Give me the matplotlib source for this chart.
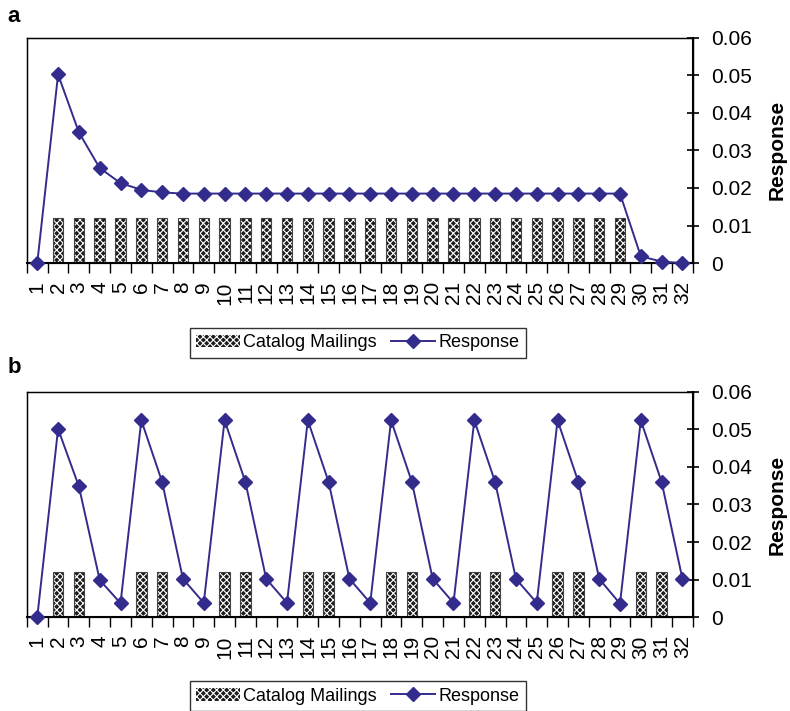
import matplotlib
matplotlib.use("Agg")
import matplotlib.pyplot as plt
import numpy as np

plt.rcParams['font.family'] = ['Liberation Sans', 'DejaVu Sans']
plt.rcParams['hatch.color'] = 'white'
plt.rcParams['hatch.linewidth'] = 0.8

periods = list(range(1, 33))

# catalog mailings (1 = mailing sent in that period)
mail_a = [0, 1, 1, 1, 1, 1, 1, 1, 1, 1, 1, 1, 1, 1, 1, 1,
          1, 1, 1, 1, 1, 1, 1, 1, 1, 1, 1, 1, 1, 0, 0, 0]
mail_b = [0, 1, 1, 0, 0, 1, 1, 0, 0, 1, 1, 0, 0, 1, 1, 0,
          0, 1, 1, 0, 0, 1, 1, 0, 0, 1, 1, 0, 0, 1, 1, 0]

resp_a = [0.0, 0.0502, 0.0348, 0.0253, 0.0213, 0.0195, 0.0188, 0.0185,
          0.0185, 0.0185, 0.0185, 0.0185, 0.0185, 0.0185, 0.0185, 0.0185,
          0.0185, 0.0185, 0.0185, 0.0185, 0.0185, 0.0185, 0.0185, 0.0185,
          0.0185, 0.0185, 0.0185, 0.0185, 0.0185, 0.0018, 0.0004, 0.0]
resp_b = [0.0, 0.0501, 0.0348, 0.0099, 0.0037, 0.0524, 0.0360, 0.0102,
          0.0038, 0.0524, 0.0360, 0.0102, 0.0038, 0.0524, 0.0360, 0.0102,
          0.0038, 0.0524, 0.0360, 0.0102, 0.0038, 0.0524, 0.0360, 0.0102,
          0.0038, 0.0524, 0.0360, 0.0102, 0.0036, 0.0524, 0.0360, 0.0102]

resp_ticks = [0, 0.01, 0.02, 0.03, 0.04, 0.05, 0.06]
resp_labels = ['0', '0.01', '0.02', '0.03', '0.04', '0.05', '0.06']

LINE = '#342c8c'


def draw_panel(fig, rect, mailings, response, letter, letter_y, legend_y):
    ax = fig.add_axes(rect)
    # bars on the hidden left scale, mailing=1 reaches 1/5 of the height
    bars = ax.bar(periods, mailings, width=0.5, color='#1c1c1c',
                  hatch='xxxxx', linewidth=0, label='Catalog Mailings')
    ax.bar(periods, mailings, width=0.5, fill=False,
           edgecolor='#444444', linewidth=0.8)
    ax.set_ylim(0, 5)
    ax.set_yticks([])
    ax.set_xlim(0.5, 32.5)

    ax2 = ax.twinx()
    line, = ax2.plot(periods, response, color=LINE, lw=1.4, marker='D',
                     markersize=7.5, label='Response', clip_on=False, zorder=5)
    ax2.set_ylim(0, 0.06)
    ax2.set_yticks(resp_ticks)
    ax2.set_yticklabels(resp_labels, fontsize=15)
    ax2.tick_params(axis='y', direction='inout', length=8, width=1.2, pad=9)
    ax2.set_ylabel('Response', fontsize=15, fontweight='bold')
    ax2.yaxis.set_label_coords(1.112, 0.5)

    ax.set_xticks(periods)
    ax.set_xticklabels([str(p) for p in periods], rotation=90, fontsize=15)
    ax.tick_params(axis='x', length=0, pad=13)
    ax.set_xticks(np.arange(0.5, 33, 1), minor=True)
    ax.tick_params(axis='x', which='minor', direction='out', length=7,
                   width=1.0)

    for sp in ax.spines.values():
        sp.set_linewidth(1.0)
    ax2.spines['right'].set_linewidth(1.5)
    ax.spines['bottom'].set_linewidth(1.5)

    fig.text(0.009, letter_y, letter, fontsize=16, fontweight='bold',
             va='baseline')

    leg = fig.legend([bars, line], ['Catalog Mailings', 'Response'],
                     loc='center', bbox_to_anchor=(0.453, legend_y), ncol=2,
                     fontsize=13, frameon=True, fancybox=False,
                     edgecolor='black', handlelength=2.4, handletextpad=0.2,
                     columnspacing=0.8, borderpad=0.35, borderaxespad=0)
    leg.get_frame().set_linewidth(1.0)


fig = plt.figure(figsize=(7.9, 7.11), dpi=100)
draw_panel(fig, [0.034, 0.630, 0.843, 0.317], mail_a, resp_a, 'a', 0.969, 0.518)
draw_panel(fig, [0.034, 0.132, 0.843, 0.317], mail_b, resp_b, 'b', 0.4755, 0.021)

fig.savefig('out.png', dpi=100)
